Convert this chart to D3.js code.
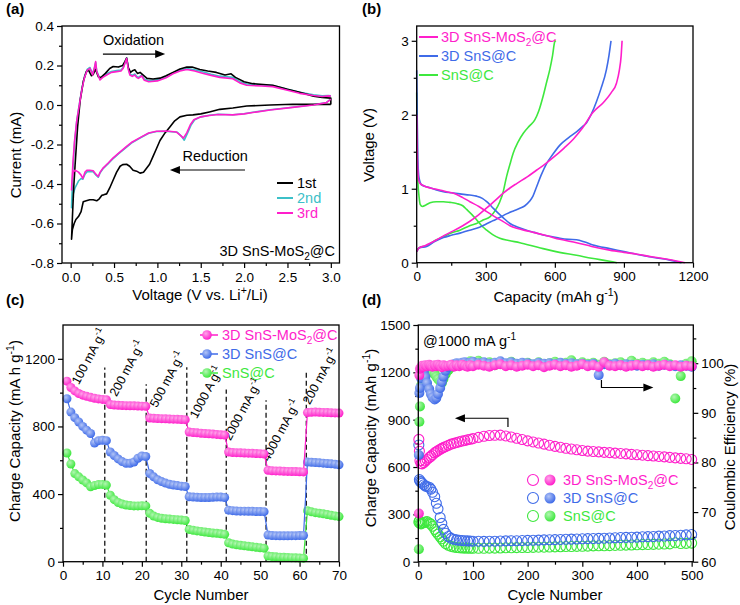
<!DOCTYPE html>
<html>
<head>
<meta charset="utf-8">
<script src="https://cdn.jsdelivr.net/npm/d3@7/dist/d3.min.js"></script>
<style>
	body { margin: 0; background: #fff; }
	svg { font-family: Arial, "Liberation Sans", sans-serif; }
</style>
</head>
<body>
<svg id="fig" width="740" height="605"></svg>
<script>
// ---------- data ----------
// (a) CV loops, [voltage V, current mA]
var cv1 = [[3.0,0.003],[2.8,0.003],[2.56,0.004],[2.3,0.0],[2.03,-0.005],[1.87,-0.015],[1.72,-0.022],[1.6,-0.035],[1.5,-0.045],[1.41,-0.05],[1.34,-0.052],[1.26,-0.06],[1.2,-0.08],[1.146,-0.11],[1.09,-0.14],[1.03,-0.18],[0.99,-0.22],[0.95,-0.26],[0.91,-0.3],[0.875,-0.32],[0.84,-0.34],[0.8,-0.345],[0.76,-0.335],[0.72,-0.33],[0.68,-0.31],[0.645,-0.3],[0.6,-0.302],[0.57,-0.31],[0.53,-0.34],[0.49,-0.38],[0.45,-0.42],[0.415,-0.45],[0.38,-0.455],[0.36,-0.457],[0.33,-0.475],[0.3,-0.485],[0.26,-0.48],[0.22,-0.48],[0.18,-0.485],[0.145,-0.49],[0.12,-0.54],[0.09,-0.565],[0.06,-0.58],[0.04,-0.6],[0.02,-0.63],[0.01,-0.68],
	[0.02,-0.57],[0.035,-0.42],[0.05,-0.31],[0.08,-0.11],[0.11,0.025],[0.146,0.12],[0.18,0.168],[0.205,0.178],[0.225,0.16],[0.24,0.148],[0.26,0.155],[0.285,0.18],[0.3,0.165],[0.32,0.142],[0.35,0.14],[0.4,0.16],[0.45,0.185],[0.49,0.195],[0.55,0.192],[0.6,0.2],[0.625,0.22],[0.645,0.238],[0.665,0.19],[0.69,0.165],[0.72,0.175],[0.74,0.178],[0.77,0.16],[0.8,0.165],[0.84,0.15],[0.88,0.135],[0.95,0.132],[1.03,0.136],[1.1,0.148],[1.18,0.165],[1.26,0.182],[1.34,0.192],[1.4,0.192],[1.49,0.18],[1.58,0.172],[1.68,0.165],[1.78,0.152],[1.85,0.158],[1.9,0.14],[2.0,0.118],[2.1,0.108],[2.33,0.1],[2.5,0.08],[2.64,0.065],[2.8,0.045],[2.9,0.038],[3.0,0.035],[3.0,0.003]];
var cv2 = [[3.0,0.03],[2.95,0.013],[2.8,0.001],[2.56,-0.011],[2.3,-0.024],[2.1,-0.037],[2.0,-0.044],[1.87,-0.049],[1.7,-0.047],[1.6,-0.052],[1.5,-0.06],[1.43,-0.075],[1.39,-0.1],[1.35,-0.14],[1.31,-0.178],[1.28,-0.16],[1.23,-0.138],[1.1,-0.133],[0.99,-0.134],[0.9,-0.143],[0.8,-0.167],[0.7,-0.193],[0.645,-0.213],[0.55,-0.248],[0.49,-0.271],[0.43,-0.298],[0.376,-0.321],[0.34,-0.343],[0.318,-0.366],[0.29,-0.354],[0.26,-0.338],[0.22,-0.336],[0.19,-0.338],[0.165,-0.35],[0.14,-0.376],[0.12,-0.372],[0.09,-0.385],[0.05,-0.42],[0.03,-0.45],[0.015,-0.49],[0.01,-0.52],
	[0.025,-0.33],[0.045,-0.19],[0.07,-0.08],[0.1,0.005],[0.13,0.085],[0.16,0.145],[0.19,0.18],[0.222,0.19],[0.253,0.158],[0.275,0.188],[0.288,0.215],[0.3,0.172],[0.338,0.132],[0.37,0.145],[0.415,0.158],[0.47,0.17],[0.53,0.174],[0.58,0.177],[0.606,0.19],[0.625,0.213],[0.645,0.238],[0.665,0.185],[0.683,0.157],[0.71,0.15],[0.74,0.157],[0.76,0.145],[0.78,0.14],[0.82,0.151],[0.85,0.13],[0.9,0.123],[1.0,0.127],[1.1,0.143],[1.18,0.163],[1.26,0.177],[1.34,0.185],[1.43,0.178],[1.53,0.167],[1.62,0.156],[1.72,0.146],[1.87,0.14],[1.95,0.118],[2.03,0.106],[2.2,0.101],[2.33,0.098],[2.5,0.08],[2.64,0.064],[2.8,0.052],[2.9,0.046],[2.97,0.048],[3.0,0.046]];
var cv3 = [[3.0,0.03],[2.95,0.012],[2.8,0.0],[2.56,-0.012],[2.3,-0.025],[2.1,-0.038],[2.0,-0.045],[1.87,-0.05],[1.7,-0.048],[1.6,-0.053],[1.5,-0.06],[1.42,-0.075],[1.38,-0.1],[1.34,-0.14],[1.3,-0.168],[1.27,-0.155],[1.22,-0.137],[1.1,-0.132],[0.99,-0.133],[0.9,-0.142],[0.8,-0.165],[0.7,-0.19],[0.645,-0.21],[0.55,-0.245],[0.49,-0.268],[0.43,-0.295],[0.376,-0.318],[0.34,-0.34],[0.318,-0.362],[0.29,-0.35],[0.26,-0.333],[0.22,-0.33],[0.19,-0.33],[0.165,-0.34],[0.14,-0.372],[0.12,-0.355],[0.09,-0.34],[0.05,-0.33],[0.03,-0.34],[0.015,-0.38],[0.01,-0.43],
	[0.025,-0.3],[0.045,-0.18],[0.07,-0.08],[0.1,0.0],[0.13,0.08],[0.16,0.14],[0.19,0.175],[0.222,0.186],[0.253,0.152],[0.275,0.19],[0.288,0.22],[0.3,0.17],[0.338,0.127],[0.37,0.14],[0.415,0.152],[0.47,0.165],[0.53,0.169],[0.58,0.172],[0.606,0.186],[0.625,0.21],[0.645,0.236],[0.665,0.18],[0.683,0.152],[0.71,0.145],[0.74,0.152],[0.76,0.14],[0.78,0.135],[0.82,0.147],[0.85,0.125],[0.9,0.118],[1.0,0.122],[1.1,0.138],[1.18,0.158],[1.26,0.172],[1.34,0.18],[1.43,0.172],[1.53,0.16],[1.62,0.15],[1.72,0.14],[1.87,0.133],[1.95,0.112],[2.03,0.1],[2.2,0.096],[2.33,0.093],[2.5,0.075],[2.64,0.059],[2.8,0.048],[2.9,0.043],[2.97,0.046],[3.0,0.045]];
var cvNames = ['1st', '2nd', '3rd'];

// (b) charge / discharge profiles, [capacity mAh/g, voltage V]
var magDis = [[0,2.0],[3,1.4],[8,1.12],[15,1.07],[30,1.04],[60,1.01],[90,0.99],[130,0.96],[160,0.94],[200,0.88],[231,0.825],[270,0.76],[304,0.69],[340,0.62],[376,0.555],[405,0.5],[434,0.465],[480,0.43],[520,0.4],[570,0.36],[622,0.316],[694,0.27],[760,0.22],[838,0.17],[900,0.14],[957,0.115],[1020,0.08],[1101,0.04],[1165,0.0]];
var magChg = [[0,0.15],[10,0.2],[36,0.23],[87,0.31],[120,0.37],[159,0.43],[200,0.5],[231,0.56],[270,0.65],[304,0.74],[340,0.84],[376,0.94],[405,1.01],[434,1.07],[480,1.16],[520,1.25],[560,1.34],[600,1.44],[640,1.55],[680,1.67],[720,1.82],[765,2.03],[812,2.17],[845,2.3],[868,2.43],[880,2.6],[888,2.8],[892,3.0]];
var bluDis = [[0,2.6],[2,2.0],[5,1.4],[10,1.15],[22,1.05],[50,1.02],[80,0.99],[116,0.96],[150,0.945],[188,0.93],[230,0.915],[260,0.9],[285,0.87],[304,0.825],[325,0.76],[347,0.69],[375,0.61],[405,0.53],[440,0.48],[477,0.44],[510,0.41],[549,0.375],[590,0.35],[622,0.33],[660,0.315],[694,0.31],[730,0.28],[766,0.24],[838,0.19],[900,0.15],[960,0.11],[1030,0.07],[1100,0.035],[1150,0.0]];
var bluChg = [[0,0.15],[10,0.2],[43,0.22],[80,0.29],[116,0.34],[150,0.37],[188,0.4],[230,0.44],[260,0.465],[300,0.52],[333,0.57],[360,0.61],[390,0.66],[420,0.7],[448,0.735],[470,0.77],[490,0.83],[505,0.9],[520,1.02],[540,1.18],[564,1.34],[590,1.46],[622,1.59],[660,1.69],[694,1.77],[720,1.84],[737,1.89],[760,2.02],[781,2.18],[800,2.35],[824,2.61],[835,2.8],[844,3.0]];
var grnDis = [[0,2.3],[2,1.6],[5,1.1],[10,0.9],[15,0.79],[25,0.76],[40,0.78],[58,0.81],[85,0.825],[116,0.825],[145,0.815],[173,0.8],[200,0.77],[217,0.72],[240,0.65],[260,0.58],[282,0.5],[304,0.44],[330,0.38],[361,0.33],[400,0.3],[448,0.27],[500,0.23],[549,0.19],[620,0.14],[694,0.1],[760,0.06],[838,0.02],[870,0.0]];
var grnChg = [[0,0.15],[10,0.2],[43,0.23],[80,0.3],[116,0.35],[150,0.4],[188,0.44],[230,0.5],[260,0.53],[290,0.58],[318,0.62],[340,0.7],[361,0.825],[375,0.95],[390,1.16],[405,1.33],[419,1.48],[440,1.63],[463,1.75],[490,1.85],[513,1.93],[530,2.05],[549,2.25],[565,2.45],[578,2.61],[590,2.8],[600,2.99],[605,3.0]];
var sampleNames = ['3D SnS-MoS2@C', '3D SnS@C', 'SnS@C'];

// (c) rate capability, charge capacity for cycles 1..70
var rateMag = [1068,1030,1010,995,985,978,972,967,963,960,958, 930,927,925,924,923,922,922,921,920,919, 850,848,847,846,845,844,843,842,841,840, 767,764,762,760,758,757,755,753,751,749, 649,646,645,644,643,642,641,640,639,637, 541,538,537,536,535,534,533,533,532,531, 882,884,885,884,883,882,881,880,879];
var rateBlu = [964,885,852,826,800,778,758,702,716,718,716, 649,628,608,592,582,582,590,612,625,622, 522,502,485,474,465,458,453,450,447,445, 384,382,381,380,380,380,381,382,382,380, 305,302,300,299,299,298,298,297,297,296, 158,155,154,153,153,153,154,154,155,155, 590,588,586,585,583,581,579,577,573];
var rateGrn = [643,578,521,502,483,466,443,450,456,457,453, 393,367,350,341,335,332,330,330,331,330, 286,270,262,257,254,252,250,248,246,244, 191,186,182,179,176,173,170,168,165,162, 112,104,100,97,94,91,88,85,82,80, 34,31,29,27,26,25,24,23,22,21, 302,295,290,287,283,279,275,271,267];
var rateSteps = [10.6, 21.1, 31.4, 41.4, 51.5, 61.7];      // dashed separators (cycle)
var rateStepTop = [1148, 1049, 1150, 1019, 955, 1120];     // their upper end (mA h/g)
var rateLabels = ['100 mA g', '200 mA g', '500 mA g', '1000 A g', '2000 mA g', '4000 mA g', '200 mA g'];
var rateLabelAt = [[4.0,1043],[13.6,972],[23.8,907],[33.9,842],[42.5,712],[52.2,588],[62.6,925]];

// (d) long cycling at 1000 mA/g
var lifeCycles = [1,2,3,5,7,10,13,16,20,23,26,30,33,36,40,43,46,50,55,60,65,70,75,80,85,90,95,100,
	110,120,130,140,150,160,170,180,190,200,210,220,230,240,250,260,270,280,290,300,310,320,330,340,350,360,370,380,390,400,410,420,430,440,450,460,470,480,490,500];
var capMag = [775,700,640,622,620,628,638,648,660,668,678,690,697,704,712,718,724,730,737,745,750,755,760,765,768,773,776,780,
	788,795,800,801,802,797,790,782,774,766,759,752,745,738,731,725,719,714,709,705,701,698,696,693,691,688,686,683,680,678,675,672,670,667,664,661,658,655,652,648];
var capBlu = [740,520,510,505,498,488,480,476,472,460,440,412,370,335,280,243,205,180,160,148,142,138,136,134,133,132,131,130,
	130,129,130,130,131,132,133,133,134,135,136,137,138,139,140,141,142,143,144,145,146,147,148,149,150,152,153,154,155,156,158,159,160,162,163,165,166,168,170,172];
var capGrn = [250,258,243,240,245,248,252,254,245,238,225,205,190,175,158,145,130,115,104,97,93,90,88,87,86,86,85,85,
	85,85,86,86,87,88,88,89,90,90,91,92,92,93,94,95,96,96,97,98,99,100,101,101,102,103,104,105,106,107,108,109,110,111,112,113,120,115,116,118];
var ceMag = [69.7,97.6,98.9,99.2,99.5,99.3,99.6,99.4,99.7,99.5,99.3,99.6,99.4,99.7,99.5,99.2,99.6,99.4,99.5,99.7,99.3,99.6,99.4,99.7,99.5,99.3,99.6,99.4,
	99.7,99.5,99.3,99.6,99.8,99.4,99.6,99.3,99.5,99.7,99.4,99.6,99.2,99.5,99.7,99.4,99.6,99.3,99.5,99.8,99.4,99.6,99.3,100.2,99.5,99.4,99.6,99.3,99.5,99.7,99.4,99.6,99.3,99.5,99.7,99.4,99.6,99.3,99.5,99.4];
var ceBlu = [81.5,94.0,95.0,97.0,98.0,98.3,97.2,96.0,94.8,93.8,93.1,92.7,93.0,93.8,95.0,96.2,97.3,98.5,99.2,99.6,99.8,100.0,99.9,100.1,100.2,99.9,100.1,100.3,
	100.0,100.2,99.9,100.1,100.4,100.0,100.2,99.9,100.1,100.0,99.8,100.1,99.9,100.0,99.8,100.1,99.9,100.0,99.8,99.9,99.7,99.9,97.6,99.8,99.7,99.9,99.6,99.8,99.7,99.5,99.7,99.6,99.8,99.5,99.7,99.6,99.4,99.6,99.5,99.3];
var ceGrn = [62.5,88.2,91.3,95.5,97.0,97.8,98.3,98.6,98.8,98.6,98.2,97.8,97.3,96.8,96.3,96.0,96.8,97.8,98.6,99.2,99.5,99.7,99.6,99.8,100.0,99.7,100.4,99.8,
	100.5,99.8,100.2,99.6,100.0,99.8,100.3,99.7,99.9,100.1,99.6,100.2,99.8,100.0,100.3,99.7,100.1,100.6,99.8,100.2,99.9,100.1,99.7,100.3,99.8,100.0,100.2,99.7,100.5,99.9,100.1,99.8,100.2,99.9,100.3,99.8,92.9,97.4,99.9,100.4];

// ---------- styling ----------
var cMag = '#ff1ecb', cBlu = '#3f6be8', cGrn = '#3ee83e', cCyan = '#3cc0c8';
var sampleColors = [cMag, cBlu, cGrn];

var svg = d3.select('#fig');
var defs = svg.append('defs');

// shiny ball markers
function ball(id, color) {
	var rg = defs.append('radialGradient').attr('id', id)
		.attr('cx', '38%').attr('cy', '35%').attr('r', '65%');
	rg.append('stop').attr('offset', '0%').attr('stop-color', d3.interpolateRgb(color, '#fff')(0.6));
	rg.append('stop').attr('offset', '100%').attr('stop-color', color);
}
ball('ball0', cMag); ball('ball1', cBlu); ball('ball2', cGrn);

// text with sub / superscripts: parts are strings or [text, dy]
function rich(sel, parts) {
	var shift = 0;
	parts.forEach(function(p) {
		var s = typeof p === 'string' ? [p, 0] : p;
		var t = sel.append('tspan').text(s[0]);
		if (s[1] !== shift) t.attr('dy', s[1] - shift);
		if (s[1] !== 0) t.attr('font-size', '0.7em');
		shift = s[1];
	});
	return sel;
}
function nameParts(name) {
	return name === '3D SnS-MoS2@C' ? ['3D SnS-MoS', ['2', 4], '@C'] : [name];
}

// ticks: minor ones then major ones with labels
function drawAxis(g, orient, scale, pos, major, minor, fmt) {
	var mk = { bottom: d3.axisBottom, left: d3.axisLeft, right: d3.axisRight }[orient];
	var tr = orient === 'bottom' ? 'translate(0,' + pos + ')' : 'translate(' + pos + ',0)';
	var m = g.append('g').attr('transform', tr)
		.call(mk(scale).tickValues(minor).tickSize(3).tickFormat(''));
	m.select('.domain').remove();
	var a = g.append('g').attr('transform', tr)
		.call(mk(scale).tickValues(major).tickSize(5).tickPadding(orient === 'bottom' ? 4 : 3).tickFormat(fmt))
		.attr('font-size', 13.5).attr('font-family', null);
	a.select('.domain').remove();
	a.selectAll('text').attr('fill', '#000');
	g.selectAll('.tick line').attr('stroke', '#000').attr('stroke-width', 1.2);
}
function box(g, x, y) {
	var r = x.range(), s = y.range();
	g.append('rect').attr('x', r[0]).attr('y', s[1])
		.attr('width', r[1] - r[0]).attr('height', s[0] - s[1])
		.attr('fill', 'none').attr('stroke', '#000').attr('stroke-width', 1.3);
}
function panelLetter(x, y, t) {
	svg.append('text').attr('x', x).attr('y', y).attr('font-size', 15).attr('font-weight', 'bold').text(t);
}
function yTitle(x, y, parts) {
	rich(svg.append('text').attr('transform', 'translate(' + x + ',' + y + ') rotate(-90)')
		.attr('text-anchor', 'middle').attr('font-size', 15), parts);
}
function xTitle(x, y, parts) {
	rich(svg.append('text').attr('x', x).attr('y', y).attr('text-anchor', 'middle').attr('font-size', 15), parts);
}
function arrowHead(g, x0, y0, dir) {
	// small filled triangle pointing left (-1) or right (+1)
	g.append('path').attr('d', 'M' + x0 + ',' + y0 + 'l' + (-10 * dir) + ',-4l0,8z').attr('fill', '#000');
}
var f1 = function(d) { return d.toFixed(1); };

// ---------- (a) CV ----------
(function() {
	var g = svg.append('g');
	var x = d3.scaleLinear().domain([-0.1, 3.1]).range([62, 339.5]);
	var y = d3.scaleLinear().domain([-0.8, 0.4]).range([263, 26]);
	drawAxis(g, 'bottom', x, 263, [0, 0.5, 1, 1.5, 2, 2.5, 3], [0.25, 0.75, 1.25, 1.75, 2.25, 2.75], f1);
	drawAxis(g, 'left', y, 62, [-0.8, -0.6, -0.4, -0.2, 0, 0.2, 0.4], [-0.7, -0.5, -0.3, -0.1, 0.1, 0.3], f1);

	var line = d3.line().x(function(d) { return x(d[0]); }).y(function(d) { return y(d[1]); });
	var curves = [[cv2, cCyan], [cv1, '#000'], [cv3, cMag]];
	g.selectAll('path.cv').data(curves).enter().append('path').attr('class', 'cv')
		.attr('d', function(d) { return line(d[0]); })
		.attr('fill', 'none').attr('stroke', function(d) { return d[1]; })
		.attr('stroke-width', 1.6).attr('stroke-linejoin', 'round');
	box(g, x, y);

	// legend
	var lc = ['#000', cCyan, cMag];
	cvNames.forEach(function(n, i) {
		var cy = 183 + i * 15;
		g.append('line').attr('x1', 277).attr('x2', 293).attr('y1', cy).attr('y2', cy)
			.attr('stroke', lc[i]).attr('stroke-width', 2);
		g.append('text').attr('x', 297).attr('y', cy + 5).attr('font-size', 14.5)
			.attr('fill', lc[i]).text(n);
	});
	rich(g.append('text').attr('x', 335).attr('y', 256).attr('text-anchor', 'end').attr('font-size', 14.5),
		nameParts(sampleNames[0]));

	// scan direction notes
	g.append('text').attr('x', x(0.372)).attr('y', y(0.304)).attr('font-size', 14.5).text('Oxidation');
	g.append('line').attr('x1', x(0.372)).attr('x2', x(1.0)).attr('y1', y(0.258)).attr('y2', y(0.258))
		.attr('stroke', '#000').attr('stroke-width', 1.2);
	arrowHead(g, x(1.09), y(0.258), 1);
	g.append('text').attr('x', x(1.29)).attr('y', y(-0.284)).attr('font-size', 14.5).text('Reduction');
	g.append('line').attr('x1', x(2.01)).attr('x2', x(1.24)).attr('y1', y(-0.329)).attr('y2', y(-0.329))
		.attr('stroke', '#000').attr('stroke-width', 1.2);
	arrowHead(g, x(1.145), y(-0.329), -1);
})();

// ---------- (b) charge / discharge ----------
(function() {
	var g = svg.append('g');
	var x = d3.scaleLinear().domain([0, 1200]).range([416.7, 693]);
	var y = d3.scaleLinear().domain([0, 3.2]).range([262.7, 26]);
	drawAxis(g, 'bottom', x, 262.7, [0, 300, 600, 900, 1200], [150, 450, 750, 1050], d3.format('d'));
	drawAxis(g, 'left', y, 416.7, [0, 1, 2, 3], [0.5, 1.5, 2.5], d3.format('d'));

	var line = d3.line().curve(d3.curveMonotoneX)
		.x(function(d) { return x(d[0]); }).y(function(d) { return y(d[1]); });
	var curves = [[grnDis, cGrn], [grnChg, cGrn], [bluDis, cBlu], [bluChg, cBlu], [magDis, cMag], [magChg, cMag]];
	g.selectAll('path.gcd').data(curves).enter().append('path').attr('class', 'gcd')
		.attr('d', function(d) { return line(d[0]); })
		.attr('fill', 'none').attr('stroke', function(d) { return d[1]; }).attr('stroke-width', 1.6);
	box(g, x, y);

	sampleNames.forEach(function(n, i) {
		var cy = 37 + i * 19;
		g.append('line').attr('x1', 419).attr('x2', 438).attr('y1', cy).attr('y2', cy)
			.attr('stroke', sampleColors[i]).attr('stroke-width', 2);
		rich(g.append('text').attr('x', 441).attr('y', cy + 5).attr('font-size', 14.5)
			.attr('fill', sampleColors[i]), nameParts(n));
	});
})();

// ---------- (c) rate ----------
(function() {
	var g = svg.append('g');
	var x = d3.scaleLinear().domain([0, 70]).range([63, 339]);
	var y = d3.scaleLinear().domain([0, 1400]).range([561.7, 325]);
	drawAxis(g, 'bottom', x, 561.7, d3.range(0, 71, 10), d3.range(5, 70, 10), d3.format('d'));
	drawAxis(g, 'left', y, 63, [0, 400, 800, 1200], [200, 600, 1000], d3.format('d'));

	// rate separators and labels
	g.selectAll('line.step').data(rateSteps).enter().append('line').attr('class', 'step')
		.attr('x1', function(d) { return x(d); }).attr('x2', function(d) { return x(d); })
		.attr('y1', y(0)).attr('y2', function(d, i) { return y(rateStepTop[i]); })
		.attr('stroke', '#000').attr('stroke-width', 1.2).attr('stroke-dasharray', '5,3');
	rateLabels.forEach(function(t, i) {
		var p = rateLabelAt[i];
		rich(g.append('text').attr('font-size', 12.5)
			.attr('transform', 'translate(' + x(p[0]) + ',' + y(p[1]) + ') rotate(-62)'),
			[t, ['-1', -6]]);
	});

	var series = [rateGrn, rateBlu, rateMag];
	var cols = [2, 1, 0];
	var line = d3.line().x(function(d, i) { return x(i + 1); }).y(function(d) { return y(d); });
	series.forEach(function(s, k) {
		var c = cols[k];
		g.append('path').attr('d', line(s)).attr('fill', 'none')
			.attr('stroke', sampleColors[c]).attr('stroke-width', 1.2);
		g.selectAll('circle.r' + c).data(s).enter().append('circle').attr('class', 'r' + c)
			.attr('cx', function(d, i) { return x(i + 1); }).attr('cy', function(d) { return y(d); })
			.attr('r', 4.5).attr('fill', 'url(#ball' + c + ')');
	});
	box(g, x, y);

	sampleNames.forEach(function(n, i) {
		var cy = 335 + i * 19;
		g.append('line').attr('x1', 200).attr('x2', 218).attr('y1', cy).attr('y2', cy)
			.attr('stroke', sampleColors[i]).attr('stroke-width', 1.5);
		g.append('circle').attr('cx', 207).attr('cy', cy).attr('r', 4.8).attr('fill', 'url(#ball' + i + ')');
		rich(g.append('text').attr('x', 222).attr('y', cy + 5).attr('font-size', 14.5)
			.attr('fill', sampleColors[i]), nameParts(n));
	});
})();

// ---------- (d) cycling ----------
(function() {
	var g = svg.append('g');
	var x = d3.scaleLinear().domain([0, 503]).range([418.3, 693.3]);
	var y = d3.scaleLinear().domain([0, 1500]).range([561.7, 325]);
	var y2 = d3.scaleLinear().domain([60, 107.7]).range([561.7, 325]);
	drawAxis(g, 'bottom', x, 561.7, d3.range(0, 501, 100), d3.range(50, 500, 100), d3.format('d'));
	drawAxis(g, 'left', y, 418.3, d3.range(0, 1501, 300), d3.range(150, 1500, 300), d3.format('d'));
	drawAxis(g, 'right', y2, 693.3, [60, 70, 80, 90, 100], [65, 75, 85, 95, 105], d3.format('d'));

	var caps = [capGrn, capBlu, capMag], ces = [ceGrn, ceBlu, ceMag], cols = [2, 1, 0];
	caps.forEach(function(s, k) {
		var c = cols[k];
		g.selectAll('circle.cap' + c).data(s).enter().append('circle').attr('class', 'cap' + c)
			.attr('cx', function(d, i) { return x(lifeCycles[i]); }).attr('cy', function(d) { return y(d); })
			.attr('r', 5).attr('fill', 'none').attr('stroke', sampleColors[c]).attr('stroke-width', 1.1);
	});
	ces.forEach(function(s, k) {
		var c = cols[k];
		g.selectAll('circle.ce' + c).data(s).enter().append('circle').attr('class', 'ce' + c)
			.attr('cx', function(d, i) { return x(lifeCycles[i]); }).attr('cy', function(d) { return y2(d); })
			.attr('r', 5).attr('fill', 'url(#ball' + c + ')');
	});
	box(g, x, y);

	rich(g.append('text').attr('x', x(8.6)).attr('y', y(1367)).attr('font-size', 14.5),
		['@1000 mA g', ['-1', -6]]);

	// axis pointers
	g.append('path').attr('d', 'M' + x(164) + ',' + y(854) + 'V' + y(909) + 'H' + x(78))
		.attr('fill', 'none').attr('stroke', '#000').attr('stroke-width', 1.2);
	arrowHead(g, x(67), y(909), -1);
	g.append('path').attr('d', 'M' + x(335) + ',' + y2(96.6) + 'V' + y2(95.1) + 'H' + x(412))
		.attr('fill', 'none').attr('stroke', '#000').attr('stroke-width', 1.2);
	arrowHead(g, x(430), y2(95.1), 1);

	sampleNames.forEach(function(n, i) {
		var cy = 480 + i * 18;
		g.append('circle').attr('cx', 533).attr('cy', cy).attr('r', 5.5)
			.attr('fill', 'none').attr('stroke', sampleColors[i]).attr('stroke-width', 1.1);
		g.append('circle').attr('cx', 550).attr('cy', cy).attr('r', 5.5).attr('fill', 'url(#ball' + i + ')');
		rich(g.append('text').attr('x', 563).attr('y', cy + 5).attr('font-size', 14.5)
			.attr('fill', sampleColors[i]), nameParts(n));
	});
})();

// ---------- titles ----------
panelLetter(6, 14, '(a)');
panelLetter(362, 14, '(b)');
panelLetter(6, 305, '(c)');
panelLetter(362, 305, '(d)');

yTitle(21, 155, ['Current (mA)']);
xTitle(200, 299.5, ['Voltage (V vs. Li', ['+', -6], '/Li)']);
yTitle(374, 145, ['Voltage (V)']);
xTitle(556, 302, ['Capacity (mAh g', ['-1', -6], ')']);
yTitle(20, 431, ['Charge Capacity (mA h g', ['-1', -6], ')']);
xTitle(201, 600, ['Cycle Number']);
yTitle(376, 438, ['Charge Capacity (mAh g', ['-1', -6], ')']);
yTitle(735, 447, ['Coulombic Efficiency (%)']);
xTitle(555, 600, ['Cycle Number']);
</script>
</body>
</html>
